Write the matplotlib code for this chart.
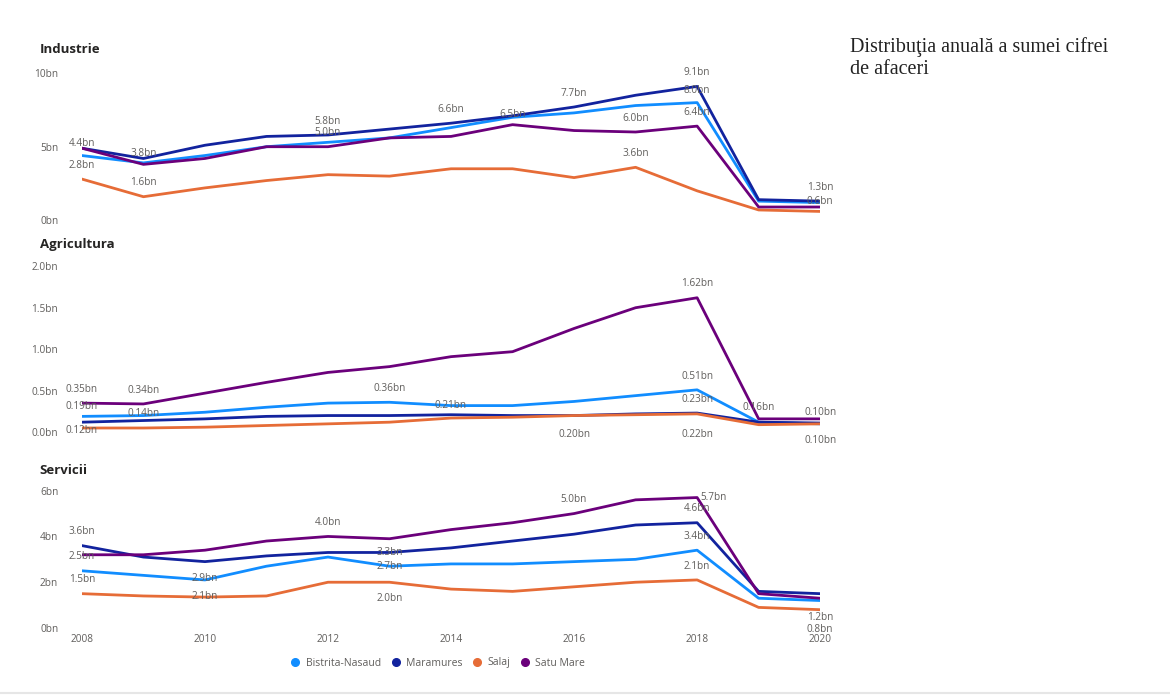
import matplotlib.pyplot as plt
from matplotlib.lines import Line2D

plt.switch_backend('Agg')
plt.rcParams['font.family'] = ['Open Sans', 'DejaVu Sans']

years = list(range(2008, 2021))
series = ['Bistrita-Nasaud', 'Maramures', 'Salaj', 'Satu Mare']
colors = ['#118DFF', '#12239E', '#E66C37', '#6B007B']

# Industrie (bn)
ind_bistrita = [4.4, 3.9, 4.4, 5.0, 5.3, 5.6, 6.3, 7.0, 7.3, 7.8, 8.0, 1.3, 1.2]
ind_maramures = [4.9, 4.2, 5.1, 5.7, 5.8, 6.2, 6.6, 7.1, 7.7, 8.5, 9.1, 1.4, 1.3]
ind_salaj = [2.8, 1.6, 2.2, 2.7, 3.1, 3.0, 3.5, 3.5, 2.9, 3.6, 2.0, 0.7, 0.6]
ind_satu = [4.9, 3.8, 4.2, 5.0, 5.0, 5.6, 5.7, 6.5, 6.1, 6.0, 6.4, 0.9, 0.9]

# Agricultura (bn)
agr_bistrita = [0.19, 0.20, 0.24, 0.30, 0.35, 0.36, 0.32, 0.32, 0.37, 0.44, 0.51, 0.12, 0.10]
agr_maramures = [0.12, 0.14, 0.16, 0.19, 0.20, 0.20, 0.21, 0.20, 0.20, 0.22, 0.23, 0.12, 0.11]
agr_salaj = [0.05, 0.05, 0.06, 0.08, 0.10, 0.12, 0.17, 0.18, 0.20, 0.21, 0.22, 0.09, 0.10]
agr_satu = [0.35, 0.34, 0.47, 0.60, 0.72, 0.79, 0.91, 0.97, 1.25, 1.50, 1.62, 0.16, 0.16]

# Servicii (bn)
srv_bistrita = [2.5, 2.3, 2.1, 2.7, 3.1, 2.7, 2.8, 2.8, 2.9, 3.0, 3.4, 1.3, 1.2]
srv_maramures = [3.6, 3.1, 2.9, 3.15, 3.3, 3.3, 3.5, 3.8, 4.1, 4.5, 4.6, 1.6, 1.5]
srv_salaj = [1.5, 1.4, 1.35, 1.4, 2.0, 2.0, 1.7, 1.6, 1.8, 2.0, 2.1, 0.9, 0.8]
srv_satu = [3.2, 3.2, 3.4, 3.8, 4.0, 3.9, 4.3, 4.6, 5.0, 5.6, 5.7, 1.5, 1.3]

# label specs: (series index, year, dx, dy) offsets in points; dy=0 -> centred on the point
ind_labels = [(0, 2008, 0, 5), (2, 2008, 0, 6), (3, 2009, 0, 4), (2, 2009, 0, 6),
              (1, 2012, 0, 6), (3, 2012, 0, 6), (1, 2014, 0, 6), (3, 2015, 0, 3),
              (1, 2016, 0, 6), (3, 2017, 0, 6), (2, 2017, 0, 6), (1, 2018, 0, 6),
              (0, 2018, 0, 5), (3, 2018, 0, 6), (1, 2020, 0, 6), (2, 2020, 0, 3)]
agr_labels = [(3, 2008, 0, 6), (3, 2009, 0, 6), (0, 2008, 0, 3), (1, 2008, 0, -2),
              (1, 2009, 0, 1), (0, 2013, 0, 6), (1, 2014, 0, 3),
              (2, 2016, 0, -10), (3, 2018, 0, 6), (0, 2018, 0, 6), (1, 2018, 0, 6),
              (2, 2018, 0, -11), (3, 2019, 0, 4), (0, 2020, 0, 4), (2, 2020, 0, -8)]
srv_labels = [(1, 2008, 0, 6), (0, 2008, 0, 6), (2, 2008, 0, 6), (1, 2010, 0, -8),
              (0, 2010, 0, -8), (3, 2012, 0, 6), (1, 2013, 0, 0), (0, 2013, 0, 0),
              (2, 2013, 0, -8), (3, 2016, 0, 6), (3, 2018, 12, 0), (1, 2018, 0, 6),
              (0, 2018, 0, 6), (2, 2018, 0, 6), (0, 2020, 0, -8), (2, 2020, 0, -10)]

panels = [
    ('Industrie', [ind_bistrita, ind_maramures, ind_salaj, ind_satu], [0, 5, 10],
     ['0bn', '5bn', '10bn'], ind_labels, '{:.1f}bn', 0.684, 0.211, 24),
    ('Agricultura', [agr_bistrita, agr_maramures, agr_salaj, agr_satu], [0, 0.5, 1.0, 1.5, 2.0],
     ['0.0bn', '0.5bn', '1.0bn', '1.5bn', '2.0bn'], agr_labels, '{:.2f}bn', 0.380, 0.238, 22),
    ('Servicii', [srv_bistrita, srv_maramures, srv_salaj, srv_satu], [0, 2, 4, 6],
     ['0bn', '2bn', '4bn', '6bn'], srv_labels, '{:.1f}bn', 0.099, 0.197, 20),
]

grey = '#605E5C'
fig = plt.figure(figsize=(11.7, 6.97), dpi=100)

for i, (title, data, yt, ytl, labels, fmt, bottom, height, tpad) in enumerate(panels):
    ax = fig.add_axes([0.070, bottom, 0.631, height])
    for vals, c, name in zip(data, colors, series):
        ax.plot(years, vals, color=c, linewidth=2.0, label=name)
    ax.set_xlim(2008, 2020)
    ax.set_ylim(yt[0], yt[-1])
    ax.set_yticks(yt)
    ax.set_yticklabels(ytl, fontsize=7.3, color=grey)
    ax.tick_params(axis='y', length=0, pad=17)
    for s in ax.spines.values():
        s.set_visible(False)
    if i == 2:
        ax.set_xticks(range(2008, 2021, 2))
        ax.tick_params(axis='x', length=0, labelsize=7.3, labelcolor=grey, pad=4)
    else:
        ax.set_xticks([])
    for si, yr, dx, dy in labels:
        v = data[si][years.index(yr)]
        va = 'center' if dy == 0 else ('bottom' if dy > 0 else 'top')
        ax.annotate(fmt.format(v), (yr, v), xytext=(dx, dy), textcoords='offset points',
                    ha='center', va=va, fontsize=7.2, color=grey)
    ax.text(-0.057, 1.0 + tpad / (height * 697), title, transform=ax.transAxes,
            fontsize=9.5, fontweight='bold', color='#252423', va='center', ha='left')

handles = [Line2D([], [], marker='o', color=c, linestyle='none', markersize=5.5) for c in colors]
fig.legend(handles, series, loc='center', bbox_to_anchor=(435 / 1170, 1 - 663 / 697), ncol=4,
           frameon=False, fontsize=7.5, handletextpad=0.0, columnspacing=0.4, labelcolor=grey)

fig.text(850 / 1170, 1 - 58 / 697, 'Distribuţia anuală a sumei cifrei\nde afaceri',
         family=['Liberation Serif', 'DejaVu Serif'], fontsize=14.5, color='#222222',
         va='center', ha='left', linespacing=1.25)

fig.add_artist(Line2D([0, 1], [1 - 693 / 697] * 2, color='#E6E6E6', linewidth=1.5,
                      transform=fig.transFigure))

fig.savefig('out.png', dpi=100)
